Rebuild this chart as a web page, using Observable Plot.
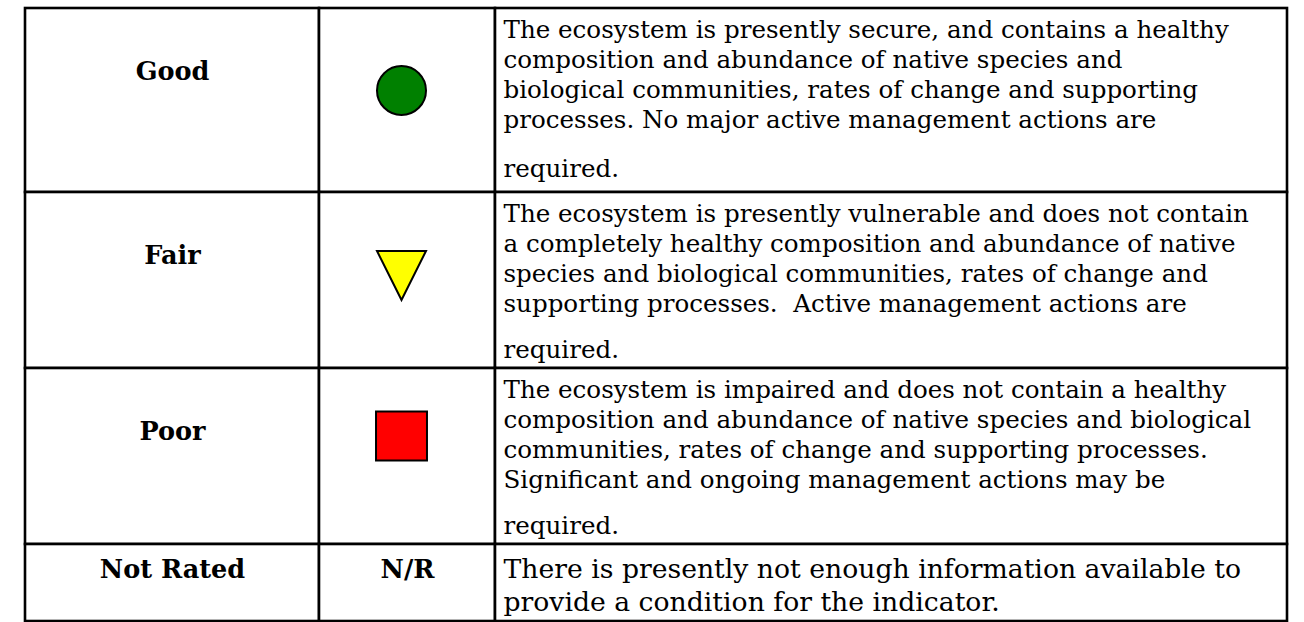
<!DOCTYPE html>
<html>
<head>
<meta charset="utf-8">
<script src="https://cdn.jsdelivr.net/npm/d3@7"></script>
<script src="https://cdn.jsdelivr.net/npm/@observablehq/plot@0.6"></script>
<style>
  html, body { margin: 0; padding: 0; background: #fff; }
  #chart svg { display: block; background: #fff; }
</style>
</head>
<body>
<div id="chart"></div>
<script>
// ---------------- DATA ----------------
const ratings = ["Good", "Fair", "Poor", "Not Rated"];
const symbolNames = ["circle", "triangle-down", "square", null];
const symbolColors = ["#008000", "#FFFF00", "#FF0000", null];
const symbolTexts = [null, null, null, "N/R"];
const descGood = [
  "The ecosystem is presently secure, and contains a healthy",
  "composition and abundance of native species and",
  "biological communities, rates of change and supporting",
  "processes. No major active management actions are",
  "required."
];
const descFair = [
  "The ecosystem is presently vulnerable and does not contain",
  "a completely healthy composition and abundance of native",
  "species and biological communities, rates of change and",
  "supporting processes.\u00A0 Active management actions are",
  "required."
];
const descPoor = [
  "The ecosystem is impaired and does not contain a healthy",
  "composition and abundance of native species and biological",
  "communities, rates of change and supporting processes.",
  "Significant and ongoing management actions may be",
  "required."
];
const descNotRated = [
  "There is presently not enough information available to",
  "provide a condition for the indicator."
];
const descriptions = [descGood, descFair, descPoor, descNotRated];

// ---------------- LAYOUT ----------------
const W = 1304, H = 622;
const colEdges = [25, 319, 495, 1287];
const tableTop = 8;
const rowHeights = [184, 176, 176, 77];
const padLeft = 8;
const firstBaseline = [29, 29, 29, 33];
const lineStep = [30, 30, 30, 33];
const lastLineExtra = [19, 16, 16, 0];
const labelBaseline = [71, 71, 71, 33];
const symbolDy = [82, 83, 67.5, 33];
const symbolDx = -6;
const fontFamily = "'DejaVu Serif', serif";

// font fitting so every line stays inside its cell like the reference
const ctx = document.createElement("canvas").getContext("2d");
function fit(text, target, weight) {
  ctx.font = `${weight} 100px ${fontFamily}`;
  return 100 * target / ctx.measureText(text).width;
}
const descSize = Math.min(
  fit(descGood[0], 776, "normal"),
  fit(descFair[0], 770, "normal"),
  fit(descPoor[1], 748, "normal"),
  fit(descPoor[0], 730, "normal")
);
const descSizeNR = Math.min(fit(descNotRated[0], 738, "normal"), 28);
const labelSize = (fit("Good", 75, "bold") + fit("Not Rated", 143, "bold")) / 2;

// row geometry
const rowTops = [];
{ let y = tableTop; for (const h of rowHeights) { rowTops.push(y); y += h; } }

const cells = [];
ratings.forEach((r, i) => {
  for (let c = 0; c < 3; c++) {
    cells.push({x1: colEdges[c], x2: colEdges[c + 1], y1: rowTops[i], y2: rowTops[i] + rowHeights[i]});
  }
});

const labelRows = ratings.map((r, i) => ({
  text: r,
  x: (colEdges[0] + colEdges[1]) / 2,
  y: rowTops[i] + labelBaseline[i]
}));

const symCx = (colEdges[1] + colEdges[2]) / 2;
const symbolRows = ratings.map((r, i) => ({
  name: symbolNames[i], color: symbolColors[i], text: symbolTexts[i],
  x: symCx + (symbolNames[i] ? symbolDx : 0),
  y: rowTops[i] + symbolDy[i]
}));

const descRows = [];
descriptions.forEach((lines, i) => {
  lines.forEach((t, j) => {
    let y = rowTops[i] + firstBaseline[i] + j * lineStep[i];
    if (j === lines.length - 1 && j > 0) y += lastLineExtra[i];
    descRows.push({text: t, x: colEdges[2] + padLeft, y, row: i});
  });
});

// custom symbols (r = half of the bounding box)
const triangleDown = {
  draw(context, size) {
    const r = Math.sqrt(size / Math.PI);
    context.moveTo(-r, -r);
    context.lineTo(r, -r);
    context.lineTo(0, r);
    context.closePath();
  }
};
const squareSym = {
  draw(context, size) {
    const r = Math.sqrt(size / Math.PI);
    context.rect(-r * 1.04, -r, 2 * r * 1.04, 2 * r);
  }
};
const symbolMap = {circle: "circle", "triangle-down": triangleDown, square: squareSym};
const symbolR = {circle: 24.5, "triangle-down": 24.5, square: 24.5};

const dotMarks = symbolRows.filter(d => d.name).map(d =>
  Plot.dot([d], {
    x: "x", y: "y",
    symbol: symbolMap[d.name],
    r: symbolR[d.name],
    fill: d.color,
    stroke: "black",
    strokeWidth: 2
  })
);

const chart = Plot.plot({
  width: W,
  height: H,
  margin: 0,
  x: {domain: [0, W], range: [0, W], axis: null},
  y: {domain: [0, H], range: [0, H], axis: null},
  style: {background: "#fff", fontFamily},
  marks: [
    Plot.rect(cells, {x1: "x1", x2: "x2", y1: "y1", y2: "y2", fill: "white", stroke: "black", strokeWidth: 2.6}),
    Plot.text(labelRows, {x: "x", y: "y", text: "text", textAnchor: "middle", lineAnchor: "bottom",
      fontWeight: "bold", fontSize: labelSize, fill: "black", fontFamily}),
    ...dotMarks,
    Plot.text(symbolRows.filter(d => d.text), {x: "x", y: "y", text: "text", textAnchor: "middle", lineAnchor: "bottom",
      fontWeight: "bold", fontSize: labelSize, fill: "black", fontFamily}),
    Plot.text(descRows.filter(d => d.row < 3), {x: "x", y: "y", text: "text", textAnchor: "start", lineAnchor: "bottom",
      fontSize: descSize, fill: "black", fontFamily}),
    Plot.text(descRows.filter(d => d.row === 3), {x: "x", y: "y", text: "text", textAnchor: "start", lineAnchor: "bottom",
      fontSize: descSizeNR, fill: "black", fontFamily})
  ]
});
document.getElementById("chart").appendChild(chart);
</script>
</body>
</html>
